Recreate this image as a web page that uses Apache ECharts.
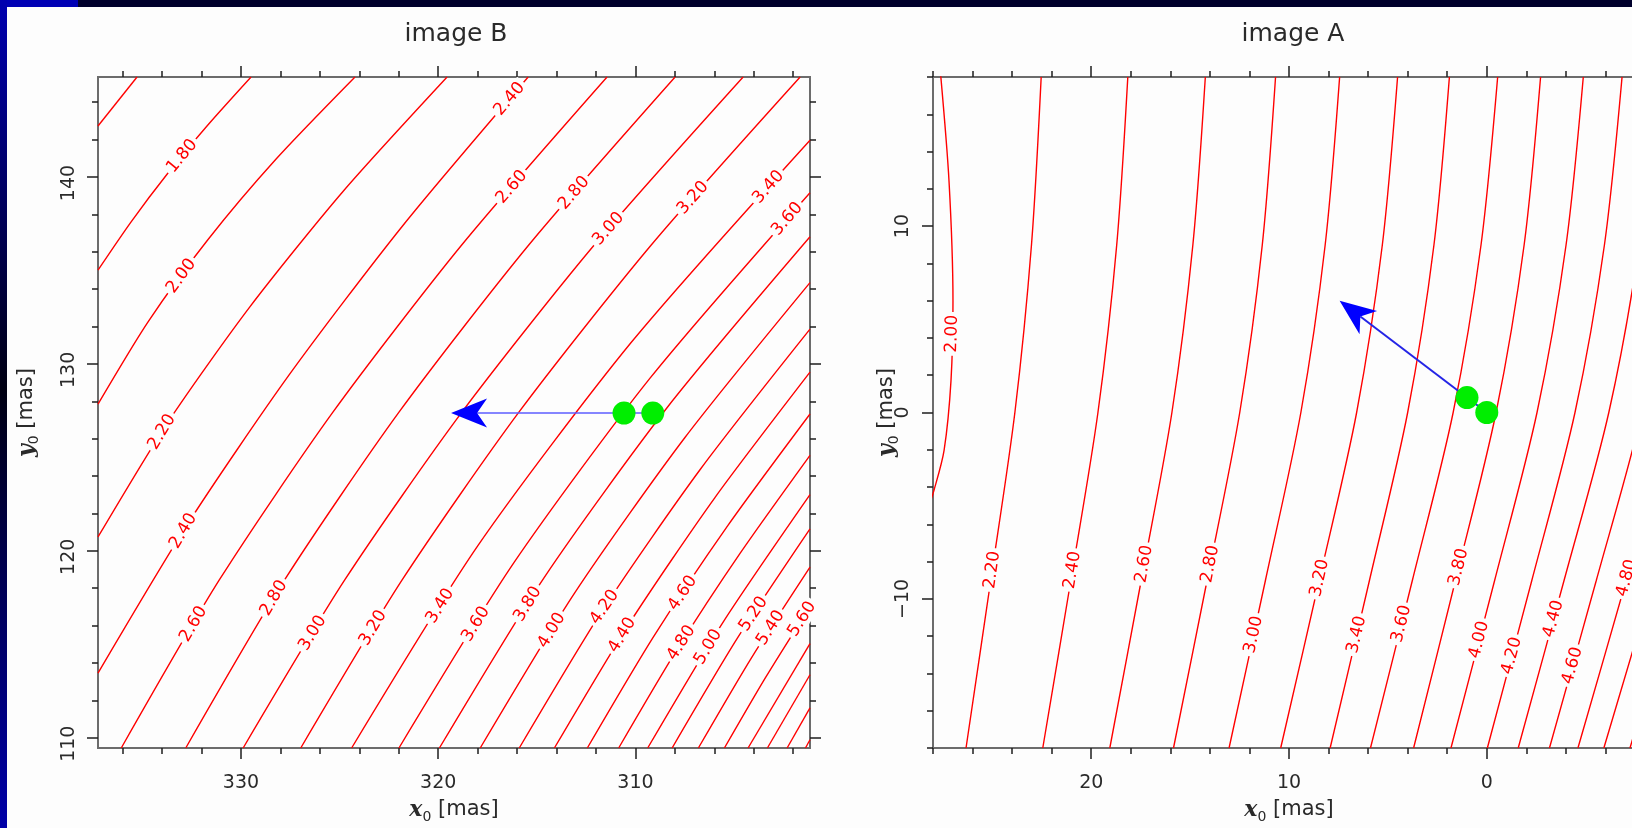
<!DOCTYPE html>
<html>
<head>
<meta charset="utf-8">
<title>image B / image A</title>
<script src="https://cdn.jsdelivr.net/npm/echarts@6.0.0/dist/echarts.min.js"></script>
<style>
html, body { margin: 0; padding: 0; background: #fdfdfd; }
#chart { width: 1632px; height: 828px; }
</style>
</head>
<body>
<div id="chart"></div>
<script>
// ---------- image B (left panel) ----------
const imageB_xRange = [301.15, 337.25];
const imageB_yRange = [109.45, 145.35];
const imageB_xTicks = [310, 320, 330];
const imageB_yTicks = [110, 120, 130, 140];
const imageB_levels = [1.6, 1.8, 2.0, 2.2, 2.4, 2.6, 2.8, 3.0, 3.2, 3.4, 3.6, 3.8, 4.0,
  4.2, 4.4, 4.6, 4.8, 5.0, 5.2, 5.4, 5.6, 5.8, 6.0, 6.2, 6.4];
// contour traces, one polyline per level
const imageB_paths = [
  [[337.25, 142.73], [335.27, 145.35]],
  [[337.25, 135.02], [335.58, 137.59], [333.74, 140.16], [331.68, 142.78], [329.49, 145.35]],
  [[337.25, 127.85], [334.72, 132.24], [331.69, 136.63], [328.22, 140.96], [324.22, 145.35]],
  [[337.25, 120.74], [333.70, 126.89], [329.56, 133.04], [324.85, 139.20], [319.55, 145.35]],
  [[337.25, 113.46], [332.71, 121.43], [327.56, 129.41], [321.81, 137.38], [315.44, 145.35]],
  [[336.07, 109.45], [331.10, 118.44], [325.33, 127.43], [318.81, 136.36], [311.44, 145.35]],
  [[332.80, 109.45], [327.79, 118.44], [321.98, 127.43], [315.41, 136.36], [307.99, 145.35]],
  [[329.89, 109.45], [324.74, 118.44], [318.79, 127.43], [312.09, 136.36], [304.54, 145.35]],
  [[326.97, 109.45], [321.83, 118.44], [315.90, 127.43], [309.20, 136.36], [301.65, 145.35]],
  [[324.39, 109.45], [317.98, 120.29], [310.23, 131.13], [301.15, 141.97]],
  [[321.99, 109.45], [316.17, 119.35], [309.25, 129.25], [301.15, 139.16]],
  [[319.94, 109.45], [314.63, 118.57], [308.38, 127.68], [301.15, 136.80]],
  [[317.87, 109.45], [313.08, 117.75], [307.50, 126.05], [301.15, 134.35]],
  [[315.89, 109.45], [311.61, 116.92], [306.69, 124.39], [301.15, 131.86]],
  [[314.11, 109.45], [310.29, 116.15], [305.97, 122.85], [301.15, 129.56]],
  [[312.44, 109.45], [309.08, 115.41], [305.31, 121.36], [301.15, 127.32]],
  [[310.85, 109.45], [307.92, 114.67], [304.68, 119.89], [301.15, 125.11]],
  [[309.38, 109.45], [305.53, 116.23], [301.15, 123.01]],
  [[308.14, 109.45], [304.84, 115.31], [301.15, 121.17]],
  [[306.81, 109.45], [304.11, 114.29], [301.15, 119.13]],
  [[305.49, 109.45], [303.40, 113.23], [301.15, 117.02]],
  [[304.29, 109.45], [301.15, 115.04]],
  [[303.31, 109.45], [301.15, 113.37]],
  [[302.31, 109.45], [301.15, 111.60]],
  [[301.38, 109.45], [301.15, 109.89]]
];
// contour labels: [level, y0 where the label sits]
const imageB_labels = [
  [1.8, 141.12], [2.4, 144.17], [2.6, 139.46], [2.8, 139.14], [3.0, 137.22],
  [3.2, 138.88], [3.4, 139.46], [3.6, 137.75],
  [2.0, 134.70], [2.2, 126.36], [2.4, 121.06], [2.6, 116.08],
  [2.8, 117.47], [3.0, 115.60], [3.2, 115.87], [3.4, 117.05], [3.6, 116.08],
  [3.8, 117.15], [4.0, 115.74], [4.2, 116.99], [4.4, 115.49], [4.6, 117.74],
  [4.8, 115.07], [5.0, 114.86], [5.2, 116.62], [5.4, 115.87], [5.6, 116.35]
];
const imageB_points = [[310.58, 127.37], [309.12, 127.37]];
const imageB_arrow = [[309.12, 127.37, 319.35, 127.37]];

// ---------- image A (right panel) ----------
const imageA_xRange = [-8, 28];
const imageA_yRange = [-18, 18];
const imageA_xTicks = [0, 10, 20];
const imageA_yTicks = [-10, 0, 10];
const imageA_levels = [2.0, 2.2, 2.4, 2.6, 2.8, 3.0, 3.2, 3.4, 3.6, 3.8, 4.0, 4.2,
  4.4, 4.6, 4.8, 5.0, 5.2];
const imageA_paths = [
  [[27.62, 18.2], [27.19, 12.41], [26.99, 5.99], [27.09, 1.71], [27.44, -2.03], [27.95, -4.17], [28.3, -5.3]],
  [[22.53, 18], [23.02, 9], [23.86, 0], [25.08, -9], [26.33, -18]],
  [[18.15, 18], [18.71, 9], [19.66, 0], [21.03, -9], [22.45, -18]],
  [[14.23, 18], [14.86, 9], [15.92, 0], [17.47, -9], [19.06, -18]],
  [[10.68, 18], [11.35, 9], [12.49, 0], [14.14, -9], [15.84, -18]],
  [[7.44, 18], [8.17, 9], [9.40, 0], [11.19, -9], [13.03, -18]],
  [[4.51, 18], [5.28, 9], [6.58, 0], [8.47, -9], [10.42, -18]],
  [[1.89, 18], [2.67, 9], [4.00, 0], [5.93, -9], [7.92, -18]],
  [[-0.55, 18], [0.29, 9], [1.70, 0], [3.76, -9], [5.88, -18]],
  [[-2.72, 18], [-1.89, 9], [-0.47, 0], [1.58, -9], [3.70, -18]],
  [[-4.88, 18], [-4.01, 9], [-2.54, 0], [-0.40, -9], [1.81, -18]],
  [[-6.84, 18], [-5.95, 9], [-4.46, 0], [-2.28, -9], [-0.03, -18]],
  [[-8.63, 18], [-7.71, 9], [-6.17, 0], [-3.91, -9], [-1.59, -18]],
  [[-10.36, 18], [-9.43, 9], [-7.84, 0], [-5.54, -9], [-3.17, -18]],
  [[-12.0, 18], [-11.04, 9], [-9.41, 0], [-7.05, -9], [-4.61, -18]],
  [[-13.52, 18], [-12.53, 9], [-10.86, 0], [-8.43, -9], [-5.92, -18]],
  [[-14.94, 18], [-13.94, 9], [-12.25, 0], [-9.78, -9], [-7.24, -18]]
];
const imageA_labels = [
  [2.0, 4.22], [2.2, -8.45], [2.4, -8.45], [2.6, -8.13], [2.8, -8.13],
  [3.0, -11.92], [3.2, -8.88], [3.4, -11.92], [3.6, -11.34], [3.8, -8.29],
  [4.0, -12.19], [4.2, -13.05], [4.4, -11.07], [4.6, -13.58], [4.8, -8.88]
];
const imageA_points = [[1.0, 0.8], [0, 0]];
const imageA_arrow = [[0, 0, 7.44, 5.99]];

// ---------- styling ----------
const FONT = 'DejaVu Sans';
const INK = '#2a2a2a';
const FRAME = '#6c6c6c';
const CONTOUR = '#ff0000';

function evenTicks(range) {
  const out = [];
  for (let v = Math.ceil(range[0] / 2) * 2; v <= range[1] + 1e-9; v += 2) out.push(v);
  return out;
}

function axisName(letter) {
  return '{v|' + letter + '}{s|0}{n| [mas]}';
}
const nameRich = {
  v: { fontFamily: 'DejaVu Serif', fontStyle: 'italic', fontWeight: 'bold', fontSize: 22, color: INK, lineHeight: 28 },
  s: { fontFamily: FONT, fontSize: 14, color: INK, lineHeight: 14, verticalAlign: 'bottom' },
  n: { fontFamily: FONT, fontSize: 21, color: INK, lineHeight: 28 }
};

// Each side of a panel gets two axes sharing the same scale: one carries the
// long ticks (and the tick labels), the other the short intermediate ticks
// (and the axis title).
function buildAxes(gi, xr, yr, xMajor, yMajor, lay) {
  const xs = [], ys = [];
  const base = {
    gridIndex: gi, type: 'value', silent: true,
    splitLine: { show: false },
    axisLine: { show: false, onZero: false },
    nameMoveOverlap: false
  };
  const fmt = v => String(v).replace('-', '\u2212');
  const tickStyle = { color: '#1e1e1e', width: 1.5 };
  ['bottom', 'top'].forEach((pos, k) => {
    xs.push(Object.assign({}, base, {
      position: pos, min: xr[0], max: xr[1], inverse: true,
      axisTick: { show: true, customValues: xMajor, length: 11, lineStyle: tickStyle },
      axisLabel: {
        show: k === 0, customValues: xMajor, margin: lay.xMargin, formatter: fmt,
        fontFamily: FONT, fontSize: 19, color: INK
      }
    }));
    xs.push(Object.assign({}, base, {
      position: pos, min: xr[0], max: xr[1], inverse: true,
      axisTick: { show: true, customValues: evenTicks(xr), length: 6, lineStyle: tickStyle },
      axisLabel: { show: false },
      name: k === 0 ? axisName('x') : '', nameLocation: 'middle', nameGap: lay.xNameGap,
      nameTextStyle: { rich: nameRich }
    }));
  });
  ['left', 'right'].forEach((pos, k) => {
    ys.push(Object.assign({}, base, {
      position: pos, min: yr[0], max: yr[1],
      axisTick: { show: true, customValues: yMajor, length: 11, lineStyle: tickStyle },
      axisLabel: {
        show: k === 0, customValues: yMajor, margin: lay.yMargin, rotate: 90, formatter: fmt,
        align: 'center', verticalAlign: 'bottom', padding: lay.yPad,
        fontFamily: FONT, fontSize: 19, color: INK
      }
    }));
    ys.push(Object.assign({}, base, {
      position: pos, min: yr[0], max: yr[1],
      axisTick: { show: true, customValues: evenTicks(yr), length: 6, lineStyle: tickStyle },
      axisLabel: { show: false },
      name: k === 0 ? axisName('y') : '', nameLocation: 'middle', nameGap: lay.yNameGap,
      nameTextStyle: { rich: nameRich }
    }));
  });
  return { xs, ys };
}

function levelIndex(levels, lv) {
  return levels.findIndex(v => Math.abs(v - lv) < 1e-6);
}

// locate the segment of a contour trace that crosses a given y
function segmentAt(path, y) {
  for (let i = 0; i < path.length - 1; i++) {
    const a = path[i], b = path[i + 1];
    if ((y - a[1]) * (y - b[1]) <= 0 && a[1] !== b[1]) {
      const t = (y - a[1]) / (b[1] - a[1]);
      return { x: a[0] + t * (b[0] - a[0]), a, b };
    }
  }
  const a = path[0], b = path[path.length - 1];
  return { x: a[0], a, b };
}

function contourSeries(axisIdx, paths, smooth) {
  return paths.map(p => ({
    type: 'line', xAxisIndex: axisIdx, yAxisIndex: axisIdx,
    data: p, showSymbol: false, symbol: 'none', smooth: smooth,
    lineStyle: { color: CONTOUR, width: 1.4 }, silent: true, z: 2, clip: true
  }));
}

function labelSeries(axisIdx, levels, paths, labels) {
  const items = labels.map(([lv, y]) => {
    const seg = segmentAt(paths[levelIndex(levels, lv)], y);
    return { value: [seg.x, y], a: seg.a, b: seg.b, text: lv.toFixed(2) };
  });
  return {
    type: 'custom', coordinateSystem: 'cartesian2d',
    xAxisIndex: axisIdx, yAxisIndex: axisIdx, silent: true, z: 3,
    data: items.map(d => d.value),
    renderItem(params, api) {
      const d = items[params.dataIndex];
      const p = api.coord(d.value);
      const pa = api.coord(d.a), pb = api.coord(d.b);
      let ang = Math.atan2(-(pb[1] - pa[1]), pb[0] - pa[0]);
      while (ang > Math.PI * 0.56) ang -= Math.PI;
      while (ang < -Math.PI * 0.44) ang += Math.PI;
      return {
        type: 'text', x: p[0], y: p[1], rotation: ang,
        style: {
          text: d.text, fill: CONTOUR, font: '17px "' + FONT + '"',
          align: 'center', verticalAlign: 'middle',
          backgroundColor: '#fdfdfd', padding: [0, 3]
        }
      };
    }
  };
}

function arrowSeries(axisIdx, arrow, shaftColor, shaftWidth) {
  return {
    type: 'custom', coordinateSystem: 'cartesian2d',
    xAxisIndex: axisIdx, yAxisIndex: axisIdx, silent: true, z: 4,
    data: arrow, encode: { x: [0, 2], y: [1, 3] },
    renderItem(params, api) {
      const p0 = api.coord([api.value(0), api.value(1)]);
      const p1 = api.coord([api.value(2), api.value(3)]);
      const dx = p0[0] - p1[0], dy = p0[1] - p1[1];
      const len = Math.hypot(dx, dy) || 1;
      const ux = dx / len, uy = dy / len, nx = -uy, ny = ux;
      const L = 36, W = 14.5, N = 26;
      const notch = [p1[0] + ux * N, p1[1] + uy * N];
      return {
        type: 'group',
        children: [
          { type: 'line', shape: { x1: p0[0], y1: p0[1], x2: notch[0], y2: notch[1] },
            style: { stroke: shaftColor, lineWidth: shaftWidth } },
          { type: 'polygon', shape: { points: [
              [p1[0], p1[1]],
              [p1[0] + ux * L + nx * W, p1[1] + uy * L + ny * W],
              notch,
              [p1[0] + ux * L - nx * W, p1[1] + uy * L - ny * W]
            ] },
            style: { fill: '#0000ff' } }
        ]
      };
    }
  };
}

function pointSeries(axisIdx, pts) {
  return {
    type: 'scatter', xAxisIndex: axisIdx, yAxisIndex: axisIdx, data: pts,
    symbol: 'circle', symbolSize: 23, itemStyle: { color: '#00ee00', opacity: 1 },
    silent: true, z: 5
  };
}

const axB = buildAxes(0, imageB_xRange, imageB_yRange, imageB_xTicks, imageB_yTicks,
  { xMargin: 26, xNameGap: 48, yMargin: 19, yPad: [0, 12, 0, 0], yNameGap: 57 });
const axA = buildAxes(1, imageA_xRange, imageA_yRange, imageA_xTicks, imageA_yTicks,
  { xMargin: 26, xNameGap: 48, yMargin: 20, yPad: 0, yNameGap: 32 });

const chart = echarts.init(document.getElementById('chart'), null, { renderer: 'canvas' });
chart.setOption({
  animation: false,
  backgroundColor: '#fdfdfd',
  title: [
    { text: 'image B', left: 456, top: 22, textAlign: 'center', textVerticalAlign: 'top', padding: 0,
      textStyle: { fontFamily: FONT, fontSize: 25, fontWeight: 'normal', color: INK } },
    { text: 'image A', left: 1293, top: 22, textAlign: 'center', textVerticalAlign: 'top', padding: 0,
      textStyle: { fontFamily: FONT, fontSize: 25, fontWeight: 'normal', color: INK } }
  ],
  grid: [
    { left: 98, top: 77, width: 712, height: 671, show: true, borderColor: FRAME, borderWidth: 2,
      backgroundColor: 'transparent', containLabel: false, outerBoundsMode: 'none' },
    { left: 933, top: 77, width: 712, height: 671, show: true, borderColor: FRAME, borderWidth: 2,
      backgroundColor: 'transparent', containLabel: false, outerBoundsMode: 'none' }
  ],
  xAxis: axB.xs.concat(axA.xs),
  yAxis: axB.ys.concat(axA.ys),
  graphic: [
    { type: 'rect', silent: true, z: 100, shape: { x: 0, y: 0, width: 1632, height: 7 }, style: { fill: '#00002c' } },
    { type: 'rect', silent: true, z: 101, shape: { x: 0, y: 0, width: 78, height: 7 }, style: { fill: '#0000b4' } },
    { type: 'rect', silent: true, z: 101, shape: { x: 0, y: 0, width: 7, height: 828 },
      style: { fill: new echarts.graphic.LinearGradient(0, 0, 0, 1, [
        { offset: 0, color: '#0000b0' }, { offset: 0.47, color: '#000012' }, { offset: 1, color: '#0000a8' }
      ]) } }
  ],
  series: [].concat(
    contourSeries(0, imageB_paths, 0.25),
    [labelSeries(0, imageB_levels, imageB_paths, imageB_labels),
     arrowSeries(0, imageB_arrow, '#5c5cff', 1.6),
     pointSeries(0, imageB_points)],
    contourSeries(4, imageA_paths, 0.3),
    [labelSeries(4, imageA_levels, imageA_paths, imageA_labels),
     arrowSeries(4, imageA_arrow, '#2424e6', 2),
     pointSeries(4, imageA_points)]
  )
});
</script>
</body>
</html>
